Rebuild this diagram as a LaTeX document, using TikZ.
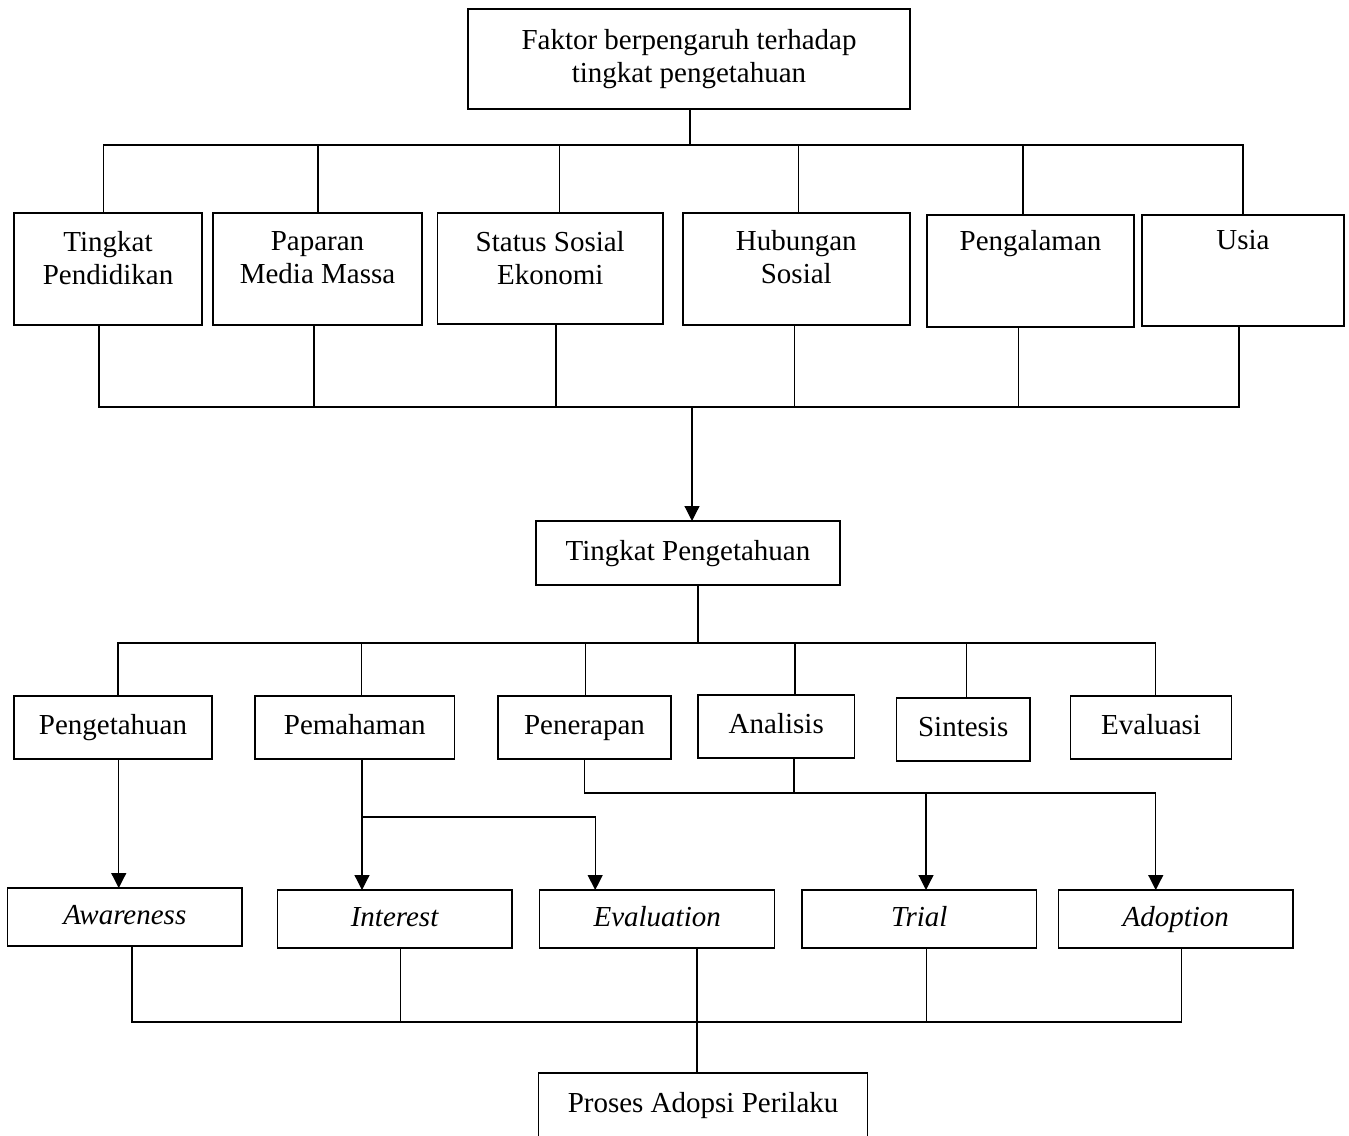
\documentclass[tikz,border=0pt]{standalone}
\usepackage{fontspec}
\setmainfont{Liberation Serif}
\usetikzlibrary{arrows.meta}

\begin{document}
\begin{tikzpicture}[x=1pt, y=-1pt,
    every node/.style={font=\fontsize{29}{33}\selectfont},
    sz/.style 2 args={minimum width=#1pt, minimum height=#2pt},
    box/.style={draw, line width=1.2pt, inner sep=0pt, outer sep=0pt,
                anchor=north west, align=center},
    fbox/.style={box, line width=1.8pt},
    lbox/.style={box, text height=20pt, text depth=6pt},
    ftxt/.style={anchor=north, align=center, inner sep=0pt},
    con/.style={line width=1.2pt},
    arr/.style={con, -{Triangle[width=15pt, length=15pt]}}]

    \useasboundingbox (0,0) rectangle (1349,1135);
    \clip (0,0) rectangle (1349,1135);

    % top box
    \node[fbox, sz={442}{100}] (faktor) at (468,9)
      {Faktor berpengaruh terhadap\\tingkat pengetahuan};

    % factors
    \node[fbox, sz={188}{112}] (pend) at (14,213) {};
    \node[fbox, sz={209}{112}] (media) at (213,213) {};
    \node[fbox, sz={225.5}{111}] (sosek) at (437.5,213) {};
    \node[fbox, sz={227.4}{112}] (hub) at (682.6,213) {};
    \node[fbox, sz={207}{112}] (pengal) at (927,215) {};
    \node[fbox, sz={202}{111}] (usia) at (1142,215) {};

    \node[ftxt] (pend-t) at ([yshift=-18pt]pend.north) {Tingkat\\Pendidikan};
    \node[ftxt] (media-t) at ([yshift=-18pt]media.north) {Paparan\\Media Massa};
    \node[ftxt] (sosek-t) at ([yshift=-18pt]sosek.north) {Status Sosial\\Ekonomi};
    \node[ftxt] (hub-t) at ([yshift=-17pt]hub.north) {Hubungan\\Sosial};
    \node[ftxt] (pengal-t) at ([yshift=-15.5pt]pengal.north) {Pengalaman};
    \node[ftxt] (usia-t) at ([yshift=-15.5pt]usia.north) {Usia};

    % knowledge level
    \node[lbox, sz={304}{64}] (tp) at (536,521) {Tingkat Pengetahuan};

    % domains
    \node[lbox, sz={198}{63}] (tahu) at (14,696) {Pengetahuan};
    \node[lbox, sz={199.5}{63}] (paham) at (255,696) {Pemahaman};
    \node[lbox, sz={173}{63}] (terap) at (498,696) {Penerapan};
    \node[lbox, sz={156.5}{63}] (anal) at (698,695) {Analisis};
    \node[lbox, sz={133.6}{63}] (sint) at (896.4,698) {Sintesis};
    \node[lbox, sz={161.2}{63}] (eval) at (1070.5,696) {Evaluasi};

    % adoption stages
    \node[lbox, sz={234.4}{58}] (aware) at (7.6,888) {\textit{Awareness}};
    \node[lbox, sz={234.3}{58}] (inter) at (277.7,890) {\textit{Interest}};
    \node[lbox, sz={235}{58}] (evaln) at (539.7,890) {\textit{Evaluation}};
    \node[lbox, sz={234.6}{58}] (trial) at (802,890) {\textit{Trial}};
    \node[lbox, sz={234.5}{58}] (adopt) at (1058.5,890) {\textit{Adoption}};

    % result
    \node[lbox, sz={328.6}{64}] (proses) at (538.8,1073) {Proses Adopsi Perilaku};

    % bus points
    \coordinate (bus1) at (690,145);
    \coordinate (bus2) at (692,407);
    \coordinate (bus3) at (698,643);
    \coordinate (split) at (362,817);
    \coordinate (bus4) at (794,793);
    \coordinate (bus5) at (697,1022);

    % top tree
    \draw[con] (faktor.south -| bus1) -- (bus1);
    \draw[con] ([xshift=-4.5pt]pend.north) |- (bus1) -| (usia.north);
    \foreach \n/\s in {media/0.5pt, sosek/9pt, hub/2pt, pengal/-7.5pt}
      \draw[con] ([xshift=\s]\n.north) -- ([xshift=\s]\n.north |- bus1);

    % factors joined
    \draw[con] ([xshift=-9pt]pend.south) |- (bus2) -| ([xshift=-4pt]usia.south);
    \foreach \n/\s in {media/-3.5pt, sosek/5.75pt, hub/-1.7pt, pengal/-11.7pt}
      \draw[con] ([xshift=\s]\n.south) -- ([xshift=\s]\n.south |- bus2);
    \draw[arr] (bus2) -- (bus2 |- tp.north);

    % domains tree
    \draw[con] (tp.south -| bus3) -- (bus3);
    \draw[con] ([xshift=5pt]tahu.north) |- (bus3) -| ([xshift=4.7pt]eval.north);
    \foreach \n/\s in {paham/6.9pt, terap/1.2pt, anal/18.75pt, sint/3.3pt}
      \draw[con] ([xshift=\s]\n.north) -- ([xshift=\s]\n.north |- bus3);

    % domains to stages
    \draw[arr] ([xshift=5.75pt]tahu.south) -- ([xshift=5.75pt]tahu.south |- aware.north);
    \draw[arr] (paham.south -| split) -- (split |- inter.north);
    \draw[arr] (split) -| ([xshift=-62pt]evaln.north);
    \draw[arr] (terap.south) |- (bus4) -| ([xshift=-20pt]adopt.north);
    \draw[con] (anal.south -| bus4) -- (bus4);
    \draw[arr] ([xshift=6.7pt]trial.north |- bus4) -- ([xshift=6.7pt]trial.north);

    % stages joined
    \draw[con] ([xshift=7.2pt]aware.south) |- (bus5) -| ([xshift=6pt]adopt.south);
    \draw[con] ([xshift=6pt]inter.south) -- ([xshift=6pt]inter.south |- bus5);
    \draw[con] ([xshift=7.5pt]trial.south) -- ([xshift=7.5pt]trial.south |- bus5);
    \draw[con] (evaln.south -| bus5) -- (bus5) -- (bus5 |- proses.north);
\end{tikzpicture}
\end{document}
